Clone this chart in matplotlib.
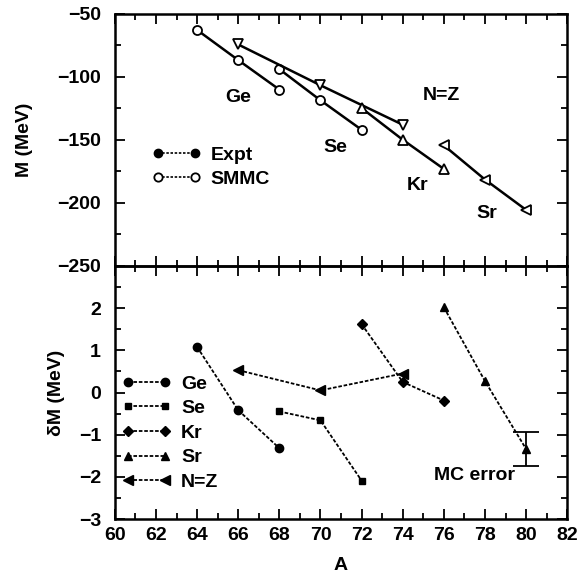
import matplotlib
matplotlib.use("Agg")
import matplotlib.pyplot as plt
from matplotlib.lines import Line2D
from matplotlib.ticker import MultipleLocator

plt.rcParams['font.family'] = ['Liberation Sans', 'DejaVu Sans']
plt.rcParams['font.weight'] = 'bold'
plt.rcParams['axes.labelweight'] = 'bold'
plt.rcParams['font.size'] = 14

# ------ data ------
# masses M (MeV), top panel
ge_A = [64, 66, 68]
ge_M = [-62.7, -86.6, -110.0]
se_A = [68, 70, 72]
se_M = [-93.8, -118.5, -141.9]
kr_A = [72, 74, 76]
kr_M = [-124.7, -149.8, -173.0]
sr_A = [76, 78, 80]
sr_M = [-154.3, -181.4, -205.5]
nz_A = [66, 70, 74]
nz_M = [-74.2, -106.6, -137.9]

# mass differences dM (MeV), bottom panel
ge_dM = [1.08, -0.42, -1.32]
se_dM = [-0.45, -0.66, -2.09]
kr_dM = [1.62, 0.25, -0.19]
sr_dM = [2.02, 0.27, -1.34]
nz_dM = [0.53, 0.05, 0.45]
mc_err = 0.40

fig = plt.figure(figsize=(5.8, 5.73), dpi=100)
ax1 = fig.add_axes([0.198, 0.5358, 0.780, 0.4398])
ax2 = fig.add_axes([0.198, 0.0942, 0.780, 0.4416])

lw_top = 1.8
open_kw = dict(color='black', mfc='white', mec='black', mew=1.3, lw=lw_top)

#------ top panel ------
ax1.plot(ge_A, ge_M, marker='o', ms=6.5, **open_kw)
ax1.plot(se_A, se_M, marker='o', ms=6.5, **open_kw)
ax1.plot(nz_A, nz_M, marker='v', ms=7.5, **open_kw)
ax1.plot(kr_A, kr_M, marker='^', ms=7.5, **open_kw)
ax1.plot(sr_A, sr_M, marker='<', ms=7.5, **open_kw)

ax1.text(66.0, -116, 'Ge', ha='center', va='center')
ax1.text(70.7, -156, 'Se', ha='center', va='center')
ax1.text(74.7, -186, 'Kr', ha='center', va='center')
ax1.text(78.1, -208, 'Sr', ha='center', va='center')
ax1.text(75.9, -114.5, 'N=Z', ha='center', va='center')

h_top = [Line2D([], [], color='black', ls=(0, (1.5, 1)), lw=1.2, marker='o', ms=6,
                mfc='black', mec='black'),
         Line2D([], [], color='black', ls=(0, (1.5, 1)), lw=1.2, marker='o', ms=6,
                mfc='white', mec='black', mew=1.3)]
ax1.legend(h_top, ['Expt', 'SMMC'], loc='upper left', bbox_to_anchor=(0.065, 0.505),
           frameon=False, numpoints=2, handlelength=2.5, handletextpad=0.5,
           labelspacing=0.3, borderaxespad=0)

ax1.set_ylim(-250, -50)
ax1.yaxis.set_major_locator(MultipleLocator(50))
ax1.yaxis.set_minor_locator(MultipleLocator(25))
ax1.set_ylabel('M (MeV)')
ax1.yaxis.set_label_coords(-0.18, 0.5)
ax1.tick_params(labelbottom=False)

#------ bottom panel ------
dash = (0, (2, 1))
fill_kw = dict(color='black', mfc='black', mec='black', lw=1.3, ls=dash)
ax2.plot(ge_A, ge_dM, marker='o', ms=6, label='Ge', **fill_kw)
ax2.plot(se_A, se_dM, marker='s', ms=4.5, label='Se', **fill_kw)
ax2.plot(kr_A, kr_dM, marker='D', ms=5, label='Kr', **fill_kw)
ax2.plot(sr_A, sr_dM, marker='^', ms=6, label='Sr', **fill_kw)
ax2.plot(nz_A, nz_dM, marker='<', ms=6.5, label='N=Z', **fill_kw)

ax2.errorbar(sr_A[-1], sr_dM[-1], yerr=mc_err, fmt='none', ecolor='black',
             elinewidth=1.3, capsize=9.5, capthick=1.3)
ax2.text(77.5, -1.97, 'MC error', ha='center', va='center')

ax2.legend(loc='upper left', bbox_to_anchor=(0.0, 0.60), frameon=False,
           numpoints=2, handlelength=2.5, handletextpad=0.5,
           labelspacing=0.36, borderaxespad=0)

ax2.set_ylim(-3, 3)
ax2.set_yticks([-3, -2, -1, 0, 1, 2])
ax2.yaxis.set_minor_locator(MultipleLocator(0.5))
ax2.set_ylabel('\u03b4M (MeV)')
ax2.yaxis.set_label_coords(-0.1105, 0.5)
ax2.set_xlabel('A', labelpad=9)

for ax in (ax1, ax2):
    ax.set_xlim(60, 82)
    ax.xaxis.set_major_locator(MultipleLocator(2))
    ax.xaxis.set_minor_locator(MultipleLocator(1))
    ax.tick_params(which='both', direction='in', top=True, right=True, width=1.3)
    ax.tick_params(which='major', length=7)
    ax.tick_params(which='minor', length=4)
    ax.tick_params(axis='y', which='major', pad=10)
    ax.tick_params(axis='x', which='major', pad=6)
    for s in ax.spines.values():
        s.set_linewidth(1.8)
    ax.patch.set_alpha(0)

fig.savefig('out.png', dpi=100)
